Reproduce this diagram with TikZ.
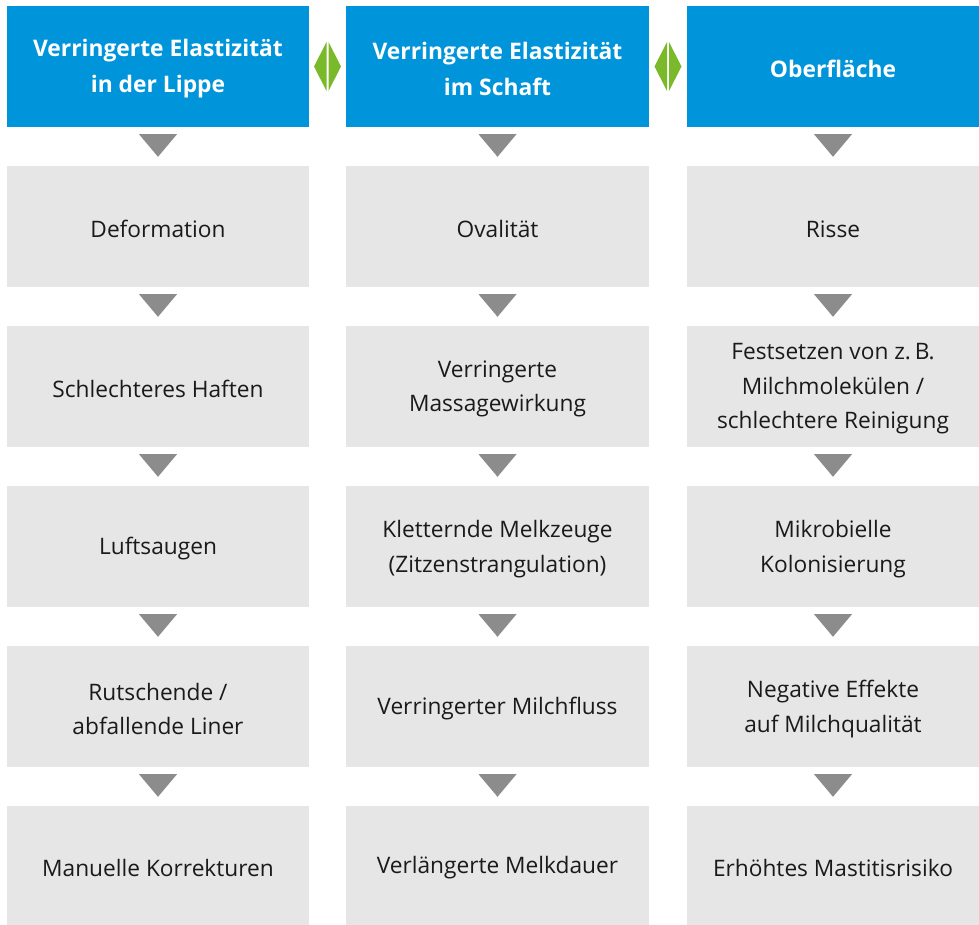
\documentclass[tikz,border=0pt]{standalone}
\usepackage{fontspec}
\setmainfont{Open Sans}
\usetikzlibrary{calc}
\definecolor{headblue}{HTML}{0095DA}
\definecolor{boxgrey}{HTML}{E6E6E6}
\definecolor{arrowgrey}{HTML}{8C8C8C}
\definecolor{linkgreen}{HTML}{7AB929}
\definecolor{textdark}{HTML}{1A1A1A}
% box node #1 centred at (#2,#3) with style #4, its text set a little lower as node #1-t
\newcommand\flowbox[5]{%
  \node[#4] (#1) at (#2,#3) {};
  \node[#4,fill=none,minimum width=0pt,minimum height=0pt] (#1-t) at ($(#1)+(0,2.5)$) {#5};}
\begin{document}
\begin{tikzpicture}[x=1pt,y=-1pt,
  head/.style={fill=headblue,text=white,font=\fontsize{22.8}{36}\selectfont\bfseries,
    align=center,inner sep=0pt,minimum height=121pt},
  step box/.style={fill=boxgrey,text=textdark,font=\fontsize{22.7}{34.5}\selectfont,
    align=center,inner sep=0pt,minimum height=121pt},
  last/.style={step box,minimum height=119pt},
  col1/.style={minimum width=302pt},
  col2/.style={minimum width=303pt},
  col3/.style={minimum width=292pt},
  down/.style={fill=arrowgrey},
  link/.style={fill=linkgreen}]
\useasboundingbox (0,0) rectangle (979,925);

% column headers
\flowbox{h1}{158}{66.5}{head,col1}{Verringerte Elastizität\\in der Lippe}
\flowbox{h2}{497.5}{66.5}{head,col2}{Verringerte Elastizität\\im Schaft}
\flowbox{h3}{833}{66.5}{head,col3}{Oberfläche}

% column 1
\flowbox{a1}{158}{226.5}{step box,col1}{Deformation}
\flowbox{a2}{158}{386.5}{step box,col1}{Schlechteres Haften}
\flowbox{a3}{158}{546.5}{step box,col1}{Luftsaugen}
\flowbox{a4}{158}{706.5}{step box,col1}{Rutschende /\\abfallende Liner}
\flowbox{a5}{158}{865.5}{last,col1}{Manuelle Korrekturen}

% column 2
\flowbox{b1}{497.5}{226.5}{step box,col2}{Ovalität}
\flowbox{b2}{497.5}{386.5}{step box,col2}{Verringerte\\Massagewirkung}
\flowbox{b3}{497.5}{546.5}{step box,col2}{Kletternde Melkzeuge\\(Zitzenstrangulation)}
\flowbox{b4}{497.5}{706.5}{step box,col2}{Verringerter Milchfluss}
\flowbox{b5}{497.5}{865.5}{last,col2}{Verlängerte Melkdauer}

% column 3
\flowbox{c1}{833}{226.5}{step box,col3}{Risse}
\flowbox{c2}{833}{386.5}{step box,col3}{Festsetzen von z.\,B.\\Milchmolekülen /\\schlechtere Reinigung}
\flowbox{c3}{833}{546.5}{step box,col3}{Mikrobielle\\Kolonisierung}
\flowbox{c4}{833}{706.5}{step box,col3}{Negative Effekte\\auf Milchqualität}
\flowbox{c5}{833}{865.5}{last,col3}{Erhöhtes Mastitisrisiko}

% downward triangles between successive boxes
\foreach \u/\v in {h1/a1,a1/a2,a2/a3,a3/a4,a4/a5,
                   h2/b1,b1/b2,b2/b3,b3/b4,b4/b5,
                   h3/c1,c1/c2,c2/c3,c3/c4,c4/c5}{
  \fill[down] ($(\u.south)+(-19,7)$) -- ($(\u.south)+(19,7)$)
     -- ($(\v.north)+(0,-9)$) -- cycle;
}

% green split diamonds linking the headers
\foreach \l/\r in {h1/h2,h2/h3}{
  \coordinate (m) at ($(\l.east)!0.5!(\r.west)$);
  \fill[link] ($(m)+(-1,-24.5)$) -- ($(m)+(-1,24.5)$) -- ($(m)+(-13.5,0)$) -- cycle;
  \fill[link] ($(m)+(1,-24.5)$) -- ($(m)+(1,24.5)$) -- ($(m)+(13.5,0)$) -- cycle;
}
\end{tikzpicture}
\end{document}
